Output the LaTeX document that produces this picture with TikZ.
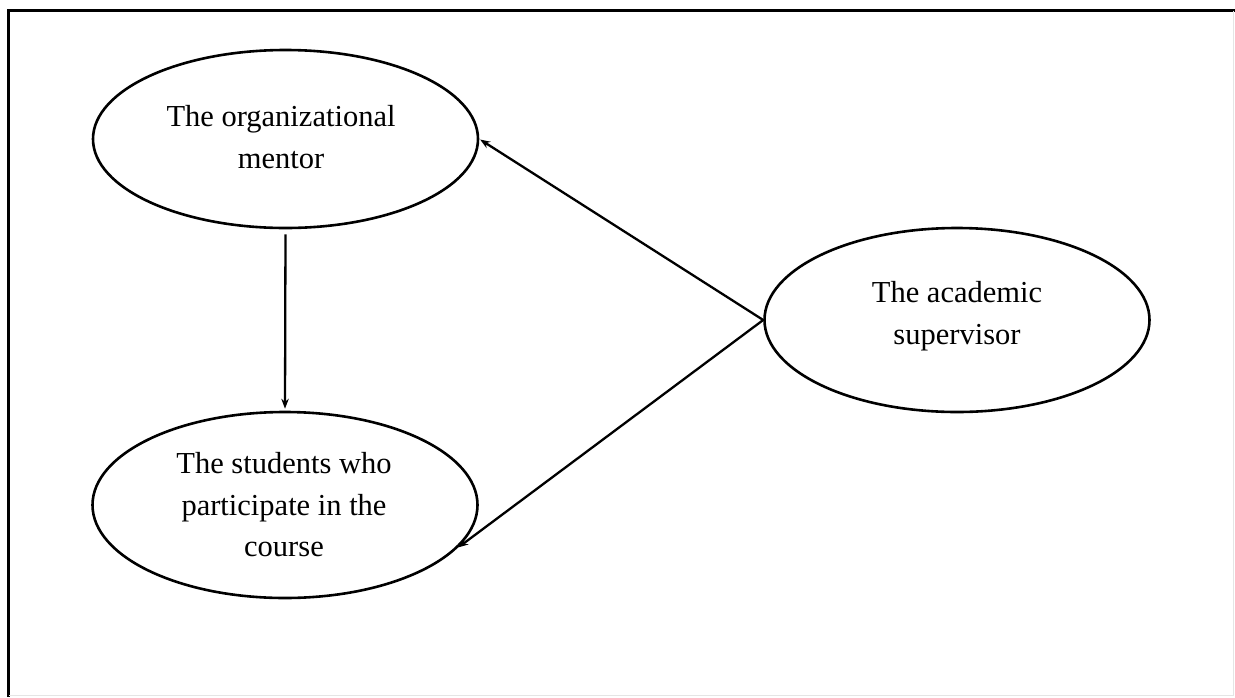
\documentclass[tikz,border=0pt]{standalone}
\usepackage{fontspec}
\setmainfont{Liberation Serif}
\usetikzlibrary{shapes.geometric,arrows.meta}
\begin{document}
\begin{tikzpicture}[x=1pt,y=-1pt,
  oval/.style={ellipse, draw, line width=2.6pt, minimum width=385pt, minimum height=178pt, inner sep=0pt},
  lbl/.style={align=center, font=\fontsize{30.5}{41.5}\selectfont},
  arr/.style={line width=2.3pt, -{Stealth[length=10pt,width=7.5pt]}}]
\useasboundingbox (0,0) rectangle (1235,697);
\draw[line width=3pt] (8.5,697) -- (8.5,10.5) -- (1235,10.5);
\draw[black!10, line width=0.8pt] (1233,10.5) -- (1233,695) -- (8.5,695);
\node[oval] (mentor) at (285.5,139) {};
\node[oval, minimum height=186pt] (students) at (285,505) {};
\node[oval, minimum height=184pt] (academic) at (957,320) {};
\node[lbl] (mentortext) at (281,137) {The organizational\\mentor};
\node[lbl] (studentstext) at (284,505) {The students who\\participate in the\\course};
\node[lbl] (academictext) at (957,316) {The academic\\supervisor};
\draw[arr, shorten <=5pt, shorten >=2pt] (mentor.south) -- (students.north);
\draw[arr, shorten >=1pt] (academic.west) -- (mentor.east);
\draw[arr, shorten >=1pt] (academic.west) -- (students.-14);
\end{tikzpicture}
\end{document}
